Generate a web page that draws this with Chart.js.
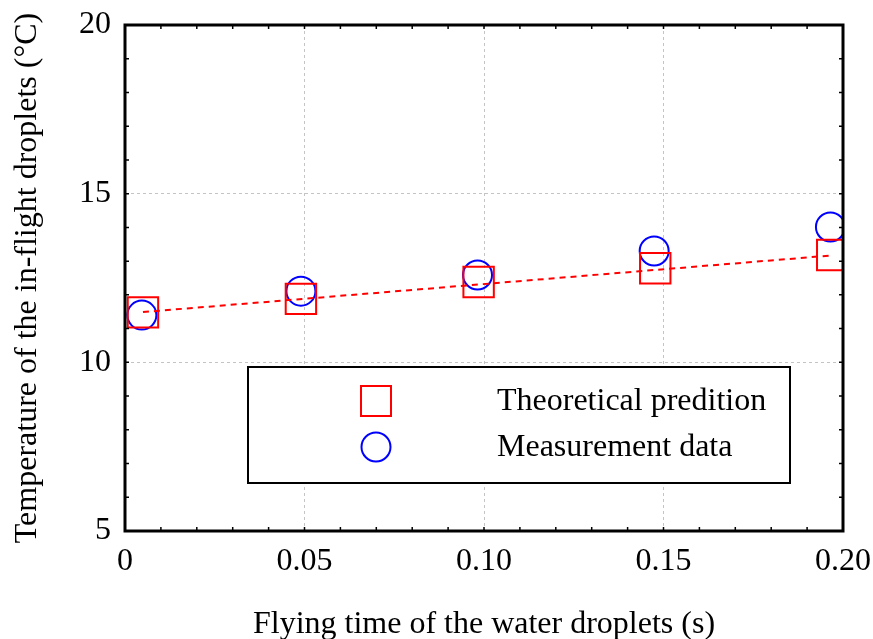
<!DOCTYPE html>
<html lang="en">
<head>
    <meta charset="UTF-8" />
    <title>Droplet temperature</title>
    <script src="https://cdn.jsdelivr.net/npm/chart.js"></script>
    <style>
        html, body { margin: 0; padding: 0; background: #fff; }
        #box { width: 873px; height: 639px; }
    </style>
</head>
<body>
    <div id="box">
        <canvas id="grafico"></canvas>
    </div>

<script>
    // dados
    const tempoTeorico = [0.005, 0.049, 0.0985, 0.1477, 0.197];
    const tempTeorica = [11.48, 11.88, 12.38, 12.79, 13.18];
    const tempoMedido = [0.0047, 0.049, 0.0982, 0.1474, 0.1965];
    const tempMedida = [11.40, 12.11, 12.59, 13.30, 14.01];
    const tempoAjuste = [0.005, 0.197];
    const tempAjuste = [11.49, 13.17];
    const ticksX = [0, 0.05, 0.10, 0.15, 0.20];
    const ticksY = [5, 10, 15, 20];
    const rotulosX = ['0', '0.05', '0.10', '0.15', '0.20'];

    const FONTE = 'Liberation Serif, Times New Roman, serif';

    function pares(xs, ys) {
        return xs.map((x, i) => ({ x: x, y: ys[i] }));
    }

    // moldura, traços internos e legenda
    const moldura = {
        id: 'moldura',
        afterDatasetsDraw(chart) {
            const ctx = chart.ctx;
            const a = chart.chartArea;
            const sx = chart.scales.x, sy = chart.scales.y;
            ctx.save();
            ctx.strokeStyle = '#000';
            ctx.lineWidth = 1.5;
            ctx.beginPath();
            for (let i = 0; i <= 20; i++) {
                const px = sx.getPixelForValue(i / 100);
                ctx.moveTo(px, a.bottom); ctx.lineTo(px, a.bottom - 4);
                ctx.moveTo(px, a.top); ctx.lineTo(px, a.top + 4);
            }
            for (let v = 5; v <= 20; v++) {
                const py = sy.getPixelForValue(v);
                ctx.moveTo(a.left, py); ctx.lineTo(a.left + 4, py);
                ctx.moveTo(a.right, py); ctx.lineTo(a.right - 4, py);
            }
            ctx.stroke();
            ctx.lineWidth = 3;
            ctx.strokeRect(a.left, a.top, a.right - a.left, a.bottom - a.top);

            // legenda
            const lx = a.left + 123, ly = a.top + 342, lw = 542, lh = 116;
            ctx.fillStyle = '#fff';
            ctx.fillRect(lx, ly, lw, lh);
            ctx.lineWidth = 2;
            ctx.strokeRect(lx, ly, lw, lh);
            ctx.lineWidth = 2;
            ctx.strokeStyle = '#ff0000';
            ctx.strokeRect(lx + 113, ly + 19, 30, 30);
            ctx.strokeStyle = '#0000ff';
            ctx.beginPath();
            ctx.arc(lx + 128, ly + 80, 14.5, 0, Math.PI * 2);
            ctx.stroke();
            ctx.fillStyle = '#000';
            ctx.font = '32px ' + FONTE;
            ctx.textBaseline = 'middle';
            ctx.textAlign = 'left';
            ctx.fillText('Theoretical predition', lx + 249, ly + 35);
            ctx.fillText('Measurement data', lx + 249, ly + 81);
            ctx.restore();
        }
    };

    new Chart(document.getElementById('grafico'), {
        type: 'scatter',
        data: {
            datasets: [
                {
                    label: 'Theoretical predition',
                    data: pares(tempoTeorico, tempTeorica),
                    pointStyle: 'rect',
                    pointRadius: 21.5,
                    borderColor: '#ff0000',
                    backgroundColor: 'rgba(0,0,0,0)',
                    borderWidth: 2
                },
                {
                    label: 'Ajuste',
                    data: pares(tempoAjuste, tempAjuste),
                    showLine: true,
                    pointRadius: 0,
                    borderColor: '#ff0000',
                    borderWidth: 2,
                    borderDash: [6, 5]
                },
                {
                    label: 'Measurement data',
                    data: pares(tempoMedido, tempMedida),
                    pointStyle: 'circle',
                    pointRadius: 14.5,
                    borderColor: '#0000ff',
                    backgroundColor: 'rgba(0,0,0,0)',
                    borderWidth: 2
                }
            ]
        },
        options: {
            responsive: true,
            maintainAspectRatio: false,
            animation: false,
            events: [],
            layout: { padding: { top: 25, right: 30, left: 0, bottom: 0 } },
            plugins: {
                legend: { display: false },
                tooltip: { enabled: false }
            },
            scales: {
                x: {
                    type: 'linear',
                    min: 0,
                    max: 0.2,
                    afterBuildTicks: (s) => { s.ticks = ticksX.map(v => ({ value: v })); },
                    afterFit: (s) => { s.height = 108; s.paddingLeft = 0; s.paddingRight = 0; },
                    ticks: {
                        color: '#000',
                        padding: 11,
                        maxRotation: 0,
                        font: { family: FONTE, size: 32 },
                        callback: (v, i) => rotulosX[i]
                    },
                    grid: { color: '#c4c4c4', lineWidth: 1, drawTicks: false },
                    border: { display: false, dash: [3, 3] },
                    title: {
                        display: true,
                        text: 'Flying time of the water droplets (s)',
                        color: '#000',
                        font: { family: FONTE, size: 32, lineHeight: 1 },
                        padding: { top: 0, bottom: -2 }
                    }
                },
                y: {
                    type: 'linear',
                    min: 5,
                    max: 20,
                    afterBuildTicks: (s) => { s.ticks = ticksY.map(v => ({ value: v })); },
                    afterFit: (s) => { s.width = 125; s.paddingTop = 0; s.paddingBottom = 0; },
                    ticks: {
                        color: '#000',
                        padding: 14,
                        font: { family: FONTE, size: 32 }
                    },
                    grid: { color: '#c4c4c4', lineWidth: 1, drawTicks: false },
                    border: { display: false, dash: [3, 3] },
                    title: {
                        display: true,
                        text: 'Temperature of the in-flight droplets (°C)',
                        color: '#000',
                        font: { family: FONTE, size: 32, lineHeight: 1 },
                        padding: { top: 12, bottom: 0 }
                    }
                }
            }
        },
        plugins: [moldura]
    });
</script>
</body>
</html>
